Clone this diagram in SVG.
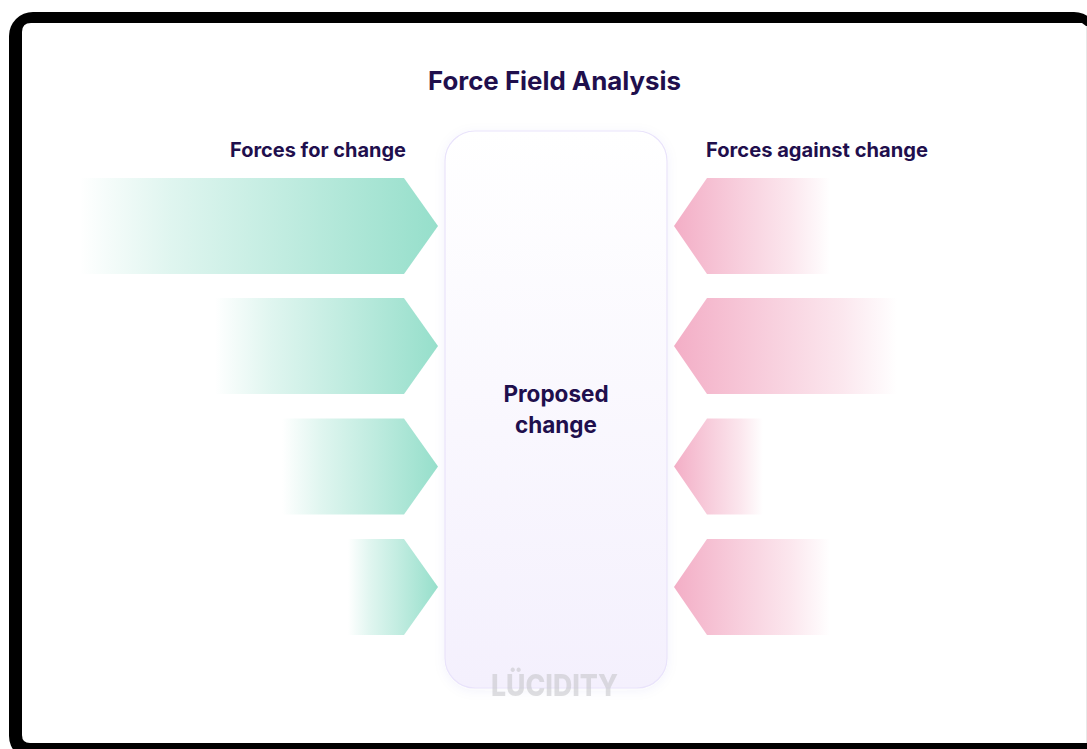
<svg xmlns="http://www.w3.org/2000/svg" width="1087" height="749" viewBox="0 0 1087 749">
<style>
text{font-family:"Inter","Liberation Sans",sans-serif;font-weight:700;fill:#1f0f4d}
.t{font-size:25.500px}.h{font-size:19.800px}.c{font-size:22.500px}
</style>
<defs>
<linearGradient id="g" x1="0" x2="1" y1="0" y2="0"><stop offset="0" stop-color="#96dfcb" stop-opacity="0"/><stop offset=".08" stop-color="#96dfcb" stop-opacity=".1"/><stop offset=".25" stop-color="#96dfcb" stop-opacity=".3"/><stop offset=".6" stop-color="#96dfcb" stop-opacity=".62"/><stop offset="1" stop-color="#96dfcb"/></linearGradient>
<linearGradient id="p" x1="1" x2="0" y1="0" y2="0"><stop offset="0" stop-color="#f3aec6" stop-opacity="0"/><stop offset=".08" stop-color="#f3aec6" stop-opacity=".1"/><stop offset=".25" stop-color="#f3aec6" stop-opacity=".3"/><stop offset=".6" stop-color="#f3aec6" stop-opacity=".62"/><stop offset="1" stop-color="#f3aec6"/></linearGradient>
<linearGradient id="b" x1="0" x2="0" y1="0" y2="1"><stop offset="0" stop-color="#fff"/><stop offset="1" stop-color="#f4f0fd"/></linearGradient>
<filter id="s" x="-20%" y="-10%" width="140%" height="120%"><feDropShadow dx="0" dy="2" stdDeviation="6" flood-color="#5a3fc0" flood-opacity=".05"/></filter>
</defs>
<rect width="1087" height="749" fill="#fff"/>
<rect x="9" y="12" width="1089" height="748" rx="24" fill="#000"/>
<path d="M31 23H1082L1086 26V743H30Q22 743 22 735V32Q22 23 31 23Z" fill="#fff"/>
<rect x="1086" y="26" width="1" height="717" fill="#e8e8e8"/>
<text class="t" x="428" y="90" textLength="253" lengthAdjust="spacingAndGlyphs">Force Field Analysis</text>
<text class="h" x="230" y="157" textLength="176" lengthAdjust="spacingAndGlyphs">Forces for change</text>
<text class="h" x="706" y="157" textLength="222" lengthAdjust="spacingAndGlyphs">Forces against change</text>
<g id="for-1"><path d="M80 178H404L438 226L404 274H80Z" fill="url(#g)"/></g>
<g id="for-2"><path d="M215 298H404L438 346L404 394H215Z" fill="url(#g)"/></g>
<g id="for-3"><path d="M282 418.500H404L438 466.500L404 514.500H282Z" fill="url(#g)"/></g>
<g id="for-4"><path d="M348 539H404L438 587L404 635H348Z" fill="url(#g)"/></g>
<g id="against-1"><path d="M830 178H707L674 226L707 274H830Z" fill="url(#p)"/></g>
<g id="against-2"><path d="M897 298H707L674 346L707 394H897Z" fill="url(#p)"/></g>
<g id="against-3"><path d="M763 418.500H707L674 466.500L707 514.500H763Z" fill="url(#p)"/></g>
<g id="against-4"><path d="M830 539H707L674 587L707 635H830Z" fill="url(#p)"/></g>
<g id="proposed-change">
<rect x="445" y="131" width="222" height="557" rx="30" fill="url(#b)" stroke="#e9e3fb" stroke-width="1.200" filter="url(#s)"/>
<text class="c" x="556" y="402" text-anchor="middle">Proposed</text>
<text class="c" x="556" y="433" text-anchor="middle">change</text>
</g>
<text x="491" y="696" textLength="127" lengthAdjust="spacingAndGlyphs" style="font-size:30px;font-weight:800;fill:#c4c4c8;opacity:.55">LÜCIDITY</text>
</svg>
